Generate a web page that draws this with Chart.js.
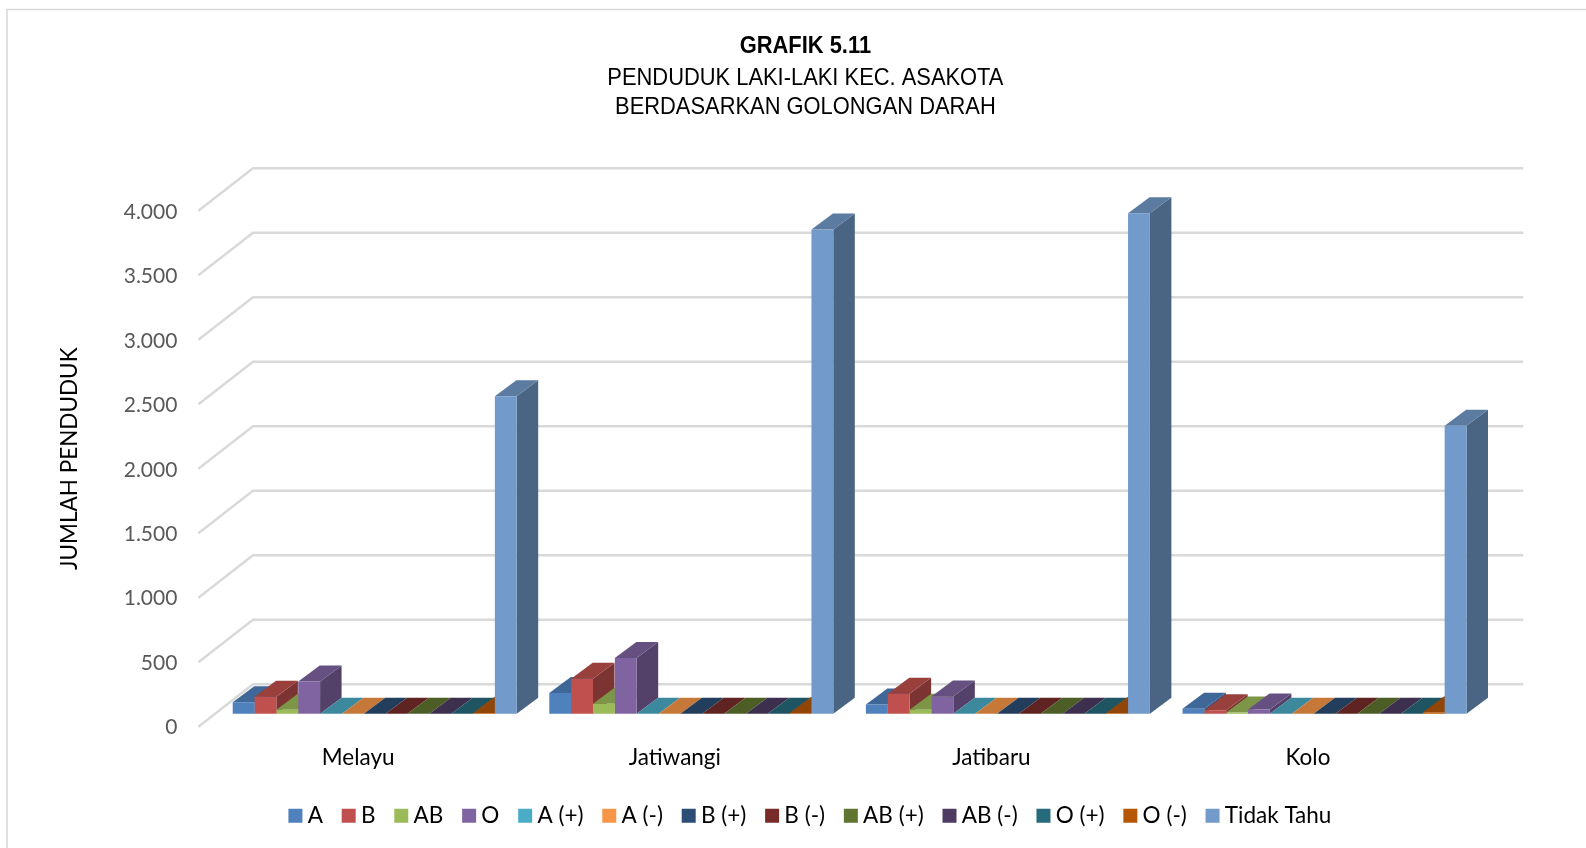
<!DOCTYPE html>
<html><head><meta charset="utf-8">
<style>html,body{margin:0;padding:0;background:#fff}canvas{display:block}</style>
<script src="https://cdn.jsdelivr.net/npm/chart.js@4"></script>
</head><body><canvas id="c" width="1586" height="848"></canvas>
<script>
const categories=['Melayu','Jatiwangi','Jatibaru','Kolo'];
const titleText='GRAFIK 5.11';
const subtitleLines=['PENDUDUK LAKI-LAKI KEC. ASAKOTA','BERDASARKAN GOLONGAN DARAH'];
const yAxisTitle='JUMLAH PENDUDUK';
const seriesNames=['A','B','AB','O','A (+)','A (-)','B (+)','B (-)','AB (+)','AB (-)','O (+)','O (-)','Tidak Tahu'];
const valuesA=[88,160,72,39];
const valuesB=[132,271,155,26];
const valuesAB=[31,78,31,10];
const valuesO=[250,431,134,33];
const valuesAPlus=[0,0,0,0];
const valuesAMinus=[0,0,0,0];
const valuesBPlus=[0,0,0,0];
const valuesBMinus=[0,0,0,0];
const valuesABPlus=[0,0,0,0];
const valuesABMinus=[0,0,0,0];
const valuesOPlus=[0,0,0,0];
const valuesOMinus=[6,6,6,12];
const valuesTidakTahu=[2461,3755,3880,2232];
const seriesColors=['#4F81BD','#C0504D','#9BBB59','#8064A2','#4BACC6','#F79646','#2C4D75','#772C2A','#5F7530','#4D3B62','#276A7C','#B65708','#729ACA'];
const allValues=[valuesA,valuesB,valuesAB,valuesO,valuesAPlus,valuesAMinus,valuesBPlus,valuesBMinus,valuesABPlus,valuesABMinus,valuesOPlus,valuesOMinus,valuesTidakTahu];

const DX=21.5,DY=16;
const shade=(hex,f)=>{const n=parseInt(hex.slice(1),16);return `rgb(${((n>>16)&255)*f|0},${((n>>8)&255)*f|0},${(n&255)*f|0})`;};
const poly=(ctx,pts,fill)=>{ctx.beginPath();pts.forEach((p,i)=>i?ctx.lineTo(p[0],p[1]):ctx.moveTo(p[0],p[1]));ctx.closePath();ctx.fillStyle=fill;ctx.fill();};

const scene={
  id:'scene',
  afterLayout(chart){
    const y=chart.scales.y,x=chart.scales.x,ctx=chart.ctx;
    y.getLabelItems().forEach(it=>{it.options.translation[1]+=14;});
    x.getLabelItems().forEach(it=>{it.options.translation[0]-=16.5;});
    y.bottom+=6;
    chart.boxes.forEach(b=>{
      if(b.position==='top'&&b.fullSize&&!b.axis){
        b.left+=64;b.right+=64;
        const cx=(b.left+b.right)/2,orig=b.draw.bind(b);
        b.draw=function(area){ctx.save();ctx.translate(cx,0);ctx.scale(0.912,1);ctx.translate(-cx,0);orig(area);ctx.restore();};
      }
    });
    const lg=chart.legend;
    lg.left+=71.5;lg.right+=71.5;
    const lgDraw=lg.draw.bind(lg);
    lg.draw=function(area){
      const ft=ctx.fillText;
      ctx.fillText=function(t,px,py,m){return m===undefined?ft.call(ctx,t,px-6,py):ft.call(ctx,t,px-6,py,m);};
      lgDraw(area);
      delete ctx.fillText;
    };
  },
  beforeDraw(chart){
    const ctx=chart.ctx;
    ctx.save();
    ctx.strokeStyle='#D9D9D9';ctx.lineWidth=1.6;
    ctx.beginPath();ctx.moveTo(7,848);ctx.lineTo(7,9.5);ctx.lineTo(1586,9.5);ctx.stroke();
    ctx.restore();
  },
  beforeDatasetsDraw(chart){
    const ctx=chart.ctx,y=chart.scales.y,a=chart.chartArea;
    ctx.save();
    ctx.strokeStyle='#D9D9D9';ctx.lineWidth=2.4;ctx.lineJoin='round';
    y.ticks.forEach(t=>{
      const py=y.getPixelForValue(t.value);
      ctx.beginPath();
      ctx.moveTo(a.left-18,py+13);
      ctx.lineTo(a.left+36.6,py-29.5);
      ctx.lineTo(a.right+40.5,py-29.5);
      ctx.stroke();
    });
    chart.data.datasets.forEach((ds,i)=>{
      const color=seriesColors[i];
      chart.getDatasetMeta(i).data.forEach(el=>{
        const l=el.x-el.width/2,r=el.x+el.width/2,top=el.y,base=el.base;
        poly(ctx,[[r,top],[r+DX,top-DY],[r+DX,base-DY],[r,base]],shade(color,0.65));
        poly(ctx,[[l,top],[l+DX,top-DY],[r+DX,top-DY],[r,top]],shade(color,0.8));
      });
    });
    ctx.restore();
  }
};

new Chart(document.getElementById('c'),{
  type:'bar',
  data:{labels:categories,datasets:seriesNames.map((n,i)=>({label:n,data:allValues[i],backgroundColor:seriesColors[i],borderWidth:0,categoryPercentage:0.897,barPercentage:1}))},
  plugins:[scene],
  options:{
    responsive:false,animation:false,
    layout:{padding:{left:0,right:103.2,top:31.5,bottom:11}},
    plugins:{
      tooltip:{enabled:false},
      title:{display:true,text:titleText,color:'#000',font:{family:'"Liberation Sans"',size:24,weight:'bold',lineHeight:1.25},padding:{top:0,bottom:2}},
      subtitle:{display:true,text:subtitleLines,color:'#000',font:{family:'"Liberation Sans"',size:24,weight:'normal',lineHeight:1.21},padding:{top:0,bottom:76.2}},
      legend:{display:true,position:'bottom',labels:{boxWidth:14,boxHeight:14,padding:12.8,color:'#000',font:{family:'Lato',size:22.5}}}
    },
    scales:{
      x:{grid:{display:false,drawTicks:false},border:{display:false},
         ticks:{color:'#000',padding:31,font:{family:'Lato',size:22.5},maxRotation:0},
         afterFit(s){s.height=78;}},
      y:{min:0,max:4000,grid:{display:false,drawTicks:false},border:{display:false},
         ticks:{stepSize:500,color:'#595959',padding:39,font:{family:'Lato',size:21},
                callback:v=>String(v).replace(/\B(?=(\d{3})+$)/g,'.')},
         title:{display:true,text:yAxisTitle,color:'#000',font:{family:'Lato',size:22.5},padding:{top:56,bottom:0}},
         afterFit(s){s.width=216.4;}}
    }
  }
});
</script></body></html>
